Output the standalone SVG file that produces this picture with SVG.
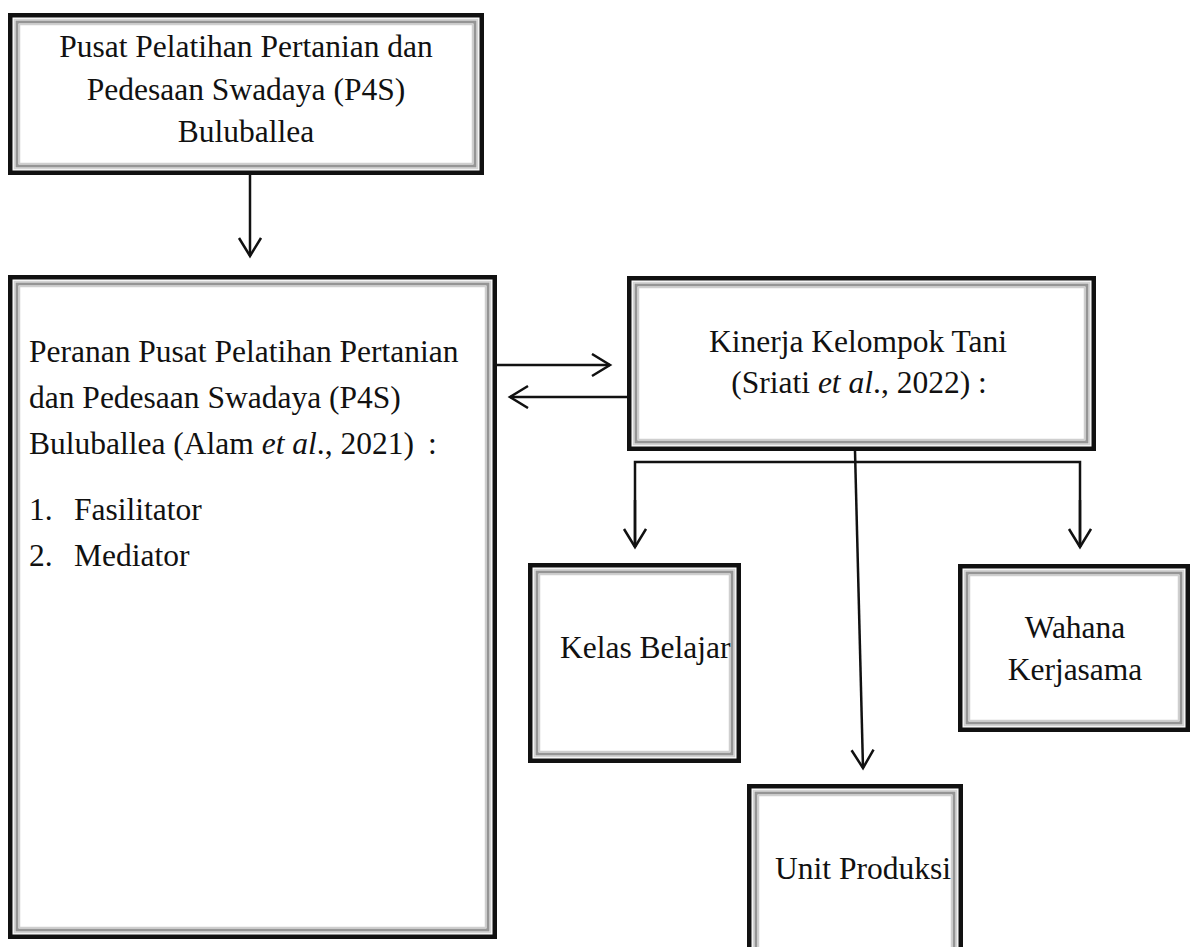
<svg xmlns="http://www.w3.org/2000/svg" width="1190" height="947" viewBox="0 0 1190 947">
<style>
text{font-family:"Liberation Serif","Times New Roman",serif;font-size:31.5px;fill:#111}
.c{text-anchor:middle}
.o{fill:#fff;stroke:#111;stroke-width:4.5}
.g1{fill:none;stroke:#d4d4d4;stroke-width:1.5}
.g2{fill:none;stroke:#959595;stroke-width:3}
.g3{fill:none;stroke:#cfcfcf;stroke-width:1.5}
.ln{fill:none;stroke:#111;stroke-width:2.5}
</style>
<defs>
<marker id="ah" markerUnits="userSpaceOnUse" markerWidth="30" markerHeight="30" refX="20" refY="12" orient="auto" viewBox="0 0 30 30">
<path d="M2,1 L20,12 L2,23" fill="none" stroke="#111" stroke-width="2.5"/>
</marker>
</defs>
<rect width="1190" height="947" fill="#fff"/>
<g id="node-p4s">
<rect class="o" x="10.25" y="15.25" width="471.5" height="157.5"/>
<rect class="g1" x="14.5" y="19.5" width="463" height="149"/>
<rect class="g2" x="17" y="22" width="458" height="144"/>
<rect class="g3" x="19.5" y="24.5" width="453" height="139"/>
<text class="c" x="246" y="57">Pusat Pelatihan Pertanian dan</text>
<text class="c" x="246" y="100">Pedesaan Swadaya (P4S)</text>
<text class="c" x="246" y="142">Buluballea</text>
</g>
<g id="node-peranan">
<rect class="o" x="10.25" y="277.25" width="484.5" height="659.5"/>
<rect class="g1" x="14.5" y="281.5" width="476" height="651"/>
<rect class="g2" x="17" y="284" width="471" height="646"/>
<rect class="g3" x="19.5" y="286.5" width="466" height="641"/>
<text x="29" y="362">Peranan Pusat Pelatihan Pertanian</text>
<text x="29" y="408">dan Pedesaan Swadaya (P4S)</text>
<text x="29" y="454">Buluballea (Alam <tspan font-style="italic">et al</tspan>., 2021)<tspan dx="14">:</tspan></text>
<text x="29" y="520">1.<tspan x="74">Fasilitator</tspan></text>
<text x="29" y="566">2.<tspan x="74">Mediator</tspan></text>
</g>
<g id="node-kinerja">
<rect class="o" x="629.25" y="278.25" width="464.5" height="170.5"/>
<rect class="g1" x="633.5" y="282.5" width="456" height="162"/>
<rect class="g2" x="636" y="285" width="451" height="157"/>
<rect class="g3" x="638.5" y="287.5" width="446" height="152"/>
<text class="c" x="858" y="352">Kinerja Kelompok Tani</text>
<text class="c" x="859" y="393">(Sriati <tspan font-style="italic">et al</tspan>., 2022) :</text>
</g>
<g id="node-kelas">
<rect class="o" x="530.25" y="565.25" width="208.5" height="195.5"/>
<rect class="g1" x="534.5" y="569.5" width="200" height="187"/>
<rect class="g2" x="537" y="572" width="195" height="182"/>
<rect class="g3" x="539.5" y="574.5" width="190" height="177"/>
<text x="560" y="658">Kelas Belajar</text>
</g>
<g id="node-wahana">
<rect class="o" x="960.25" y="566.25" width="227.5" height="163.5"/>
<rect class="g1" x="964.5" y="570.5" width="219" height="155"/>
<rect class="g2" x="967" y="573" width="214" height="150"/>
<rect class="g3" x="969.5" y="575.5" width="209" height="145"/>
<text class="c" x="1075" y="638">Wahana</text>
<text class="c" x="1075" y="680">Kerjasama</text>
</g>
<g id="node-unit">
<rect class="o" x="749.25" y="786.25" width="211.5" height="180"/>
<rect class="g1" x="753.5" y="790.5" width="203" height="172"/>
<rect class="g2" x="756" y="793" width="198" height="168"/>
<rect class="g3" x="758.5" y="795.5" width="193" height="164"/>
<text x="775" y="879">Unit Produksi</text>
</g>
<g id="connectors">
<line class="ln" x1="250" y1="175" x2="250" y2="256" marker-end="url(#ah)"/>
<line class="ln" x1="497" y1="365" x2="610" y2="365" marker-end="url(#ah)"/>
<line class="ln" x1="627" y1="397" x2="510" y2="397" marker-end="url(#ah)"/>
<line class="ln" x1="855" y1="451" x2="863" y2="768" marker-end="url(#ah)"/>
<path class="ln" d="M635,547 L635,462 L1080,462 L1080,547"/>
<line class="ln" x1="635" y1="500" x2="635" y2="547" marker-end="url(#ah)"/>
<line class="ln" x1="1080" y1="500" x2="1080" y2="547" marker-end="url(#ah)"/>
</g>
</svg>
